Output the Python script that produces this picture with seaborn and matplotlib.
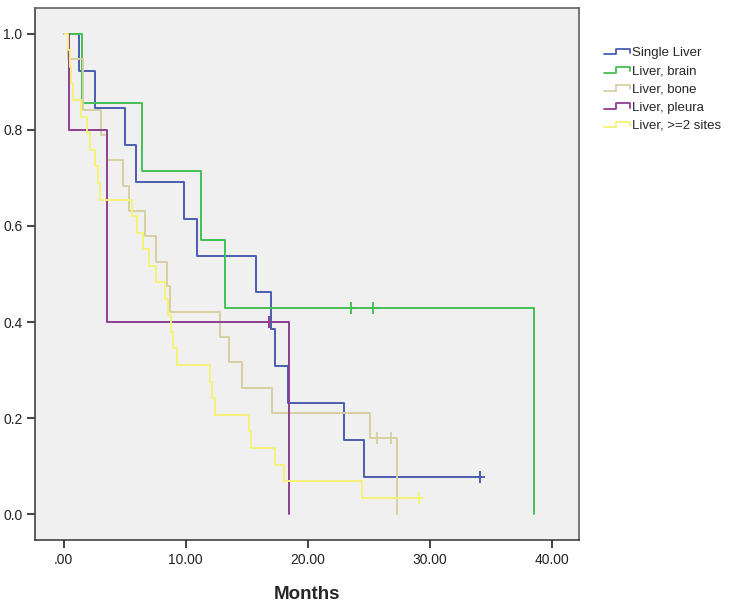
import numpy as np
import pandas as pd
import matplotlib
matplotlib.use("Agg")
import matplotlib.pyplot as plt
import seaborn as sns
from matplotlib.lines import Line2D
from matplotlib.legend_handler import HandlerBase

# ---- data ----
groups = ["Single Liver", "Liver, brain", "Liver, bone", "Liver, pleura", "Liver, >=2 sites"]
colors = ["#4a5eb0", "#45bf55", "#d6d0a2", "#8e3f8f", "#f5f27a"]

single_t = [0, 1.3, 2.6, 5.0, 5.9, 9.9, 10.9, 15.8, 17.0, 17.3, 18.4, 23.0, 24.6, 34.1]
single_s = [1.0, 0.923, 0.846, 0.769, 0.692, 0.615, 0.538, 0.462, 0.385, 0.308, 0.231, 0.154, 0.077, 0.077]
single_cens = [34.1]

brain_t = [0, 1.5, 6.4, 11.3, 13.2, 38.6]
brain_s = [1.0, 0.857, 0.714, 0.571, 0.429, 0.0]
brain_cens = [23.6, 25.4]

bone_t = [0, 0.4, 1.6, 3.1, 3.6, 4.9, 5.4, 6.7, 7.6, 8.5, 8.7, 12.8, 13.6, 14.6, 17.1, 25.1, 27.3]
bone_s = [1.0, 0.947, 0.842, 0.789, 0.737, 0.684, 0.632, 0.579, 0.526, 0.474, 0.421, 0.368, 0.316,
          0.263, 0.211, 0.158, 0.0]
bone_cens = [25.7, 26.8]

pleura_t = [0, 0.45, 3.6, 18.5]
pleura_s = [1.0, 0.8, 0.4, 0.0]
pleura_cens = [16.8]

multi_t = [0, 0.35, 0.5, 0.65, 0.8, 1.45, 1.9, 2.2, 2.6, 2.8, 3.0, 5.6, 6.0, 6.5, 7.0, 7.6, 8.3, 8.6,
           8.8, 9.0, 9.3, 12.0, 12.2, 12.4, 15.2, 15.4, 17.3, 18.1, 24.5, 29.1]
multi_s = [1.0, 0.966, 0.931, 0.897, 0.862, 0.828, 0.793, 0.759, 0.724, 0.690, 0.655, 0.621, 0.586,
           0.552, 0.517, 0.483, 0.448, 0.414, 0.379, 0.345, 0.310, 0.276, 0.241, 0.207, 0.172, 0.138,
           0.103, 0.069, 0.034, 0.034]
multi_cens = [29.1]

x_ticks = [0, 10, 20, 30, 40]
x_ticklabels = [".00", "10.00", "20.00", "30.00", "40.00"]
y_ticks = [0.0, 0.2, 0.4, 0.6, 0.8, 1.0]
y_ticklabels = ["0.0", "0.2", "0.4", "0.6", "0.8", "1.0"]

curves = [(single_t, single_s, single_cens), (brain_t, brain_s, brain_cens),
          (bone_t, bone_s, bone_cens), (pleura_t, pleura_s, pleura_cens),
          (multi_t, multi_s, multi_cens)]

# long-form tables for seaborn
rows, cens_rows = [], []
for name, (t, s, c) in zip(groups, curves):
    for ti, si in zip(t, s):
        rows.append((name, ti, si))
    for ci in c:
        # survival level at the censor time (step function)
        idx = np.searchsorted(t, ci, side="right") - 1
        cens_rows.append((name, ci, s[idx]))
df = pd.DataFrame(rows, columns=["group", "months", "survival"])
cens = pd.DataFrame(cens_rows, columns=["group", "months", "survival"])


class StepHandler(HandlerBase):
    # little step icon like the SPSS legend
    def create_artists(self, legend, orig_handle, xdescent, ydescent, width, height, fontsize, trans):
        xs = np.array([0, 0.45, 0.45, 1.0, 1.0]) * width - xdescent
        ys = np.array([0.2, 0.2, 0.8, 0.8, 0.35]) * height - ydescent
        line = Line2D(xs, ys, color=orig_handle.get_color(), lw=1.3)
        line.set_transform(trans)
        return [line]


sns.set_style("ticks")
plt.rcParams["font.family"] = ["Liberation Sans", "DejaVu Sans"]

fig = plt.figure(figsize=(7.39, 6.05), dpi=100)
ax = fig.add_axes([35 / 739, 1 - 540 / 605, (579 - 35) / 739, (540 - 8) / 605])
ax.set_facecolor("#f0f0f0")

sns.lineplot(data=df, x="months", y="survival", hue="group", hue_order=groups, palette=colors,
             drawstyle="steps-post", estimator=None, legend=False, linewidth=1.4, ax=ax)
sns.scatterplot(data=cens, x="months", y="survival", hue="group", hue_order=groups, palette=colors,
                marker="+", s=70, linewidth=1.4, legend=False, ax=ax, zorder=3)

ax.set_xlim(-2.34, 42.25)
ax.set_ylim(-0.054, 1.054)
ax.set_xticks(x_ticks)
ax.set_xticklabels(x_ticklabels)
ax.set_yticks(y_ticks)
ax.set_yticklabels(y_ticklabels)
ax.tick_params(direction="out", length=6, width=1.3, color="#333333", labelsize=10,
               labelcolor="#222222", pad=3)
for sp in ax.spines.values():
    sp.set_color("#555555")
    sp.set_linewidth(1.1)
ax.spines["left"].set_color("#333333")
ax.spines["bottom"].set_color("#333333")

ax.set_xlabel("Months", fontsize=13.5, fontweight="bold", labelpad=14)
ax.set_ylabel("")

handles = [Line2D([0], [0], color=c) for c in colors]
fig.legend(handles, groups, loc="upper left", bbox_to_anchor=(604 / 739, 1 - 47 / 605),
           frameon=False, fontsize=9.5, handlelength=2.0, handletextpad=0.15, labelspacing=0.45,
           borderpad=0, borderaxespad=0, handler_map={Line2D: StepHandler()})

fig.savefig("out.png", dpi=100, facecolor="white")
